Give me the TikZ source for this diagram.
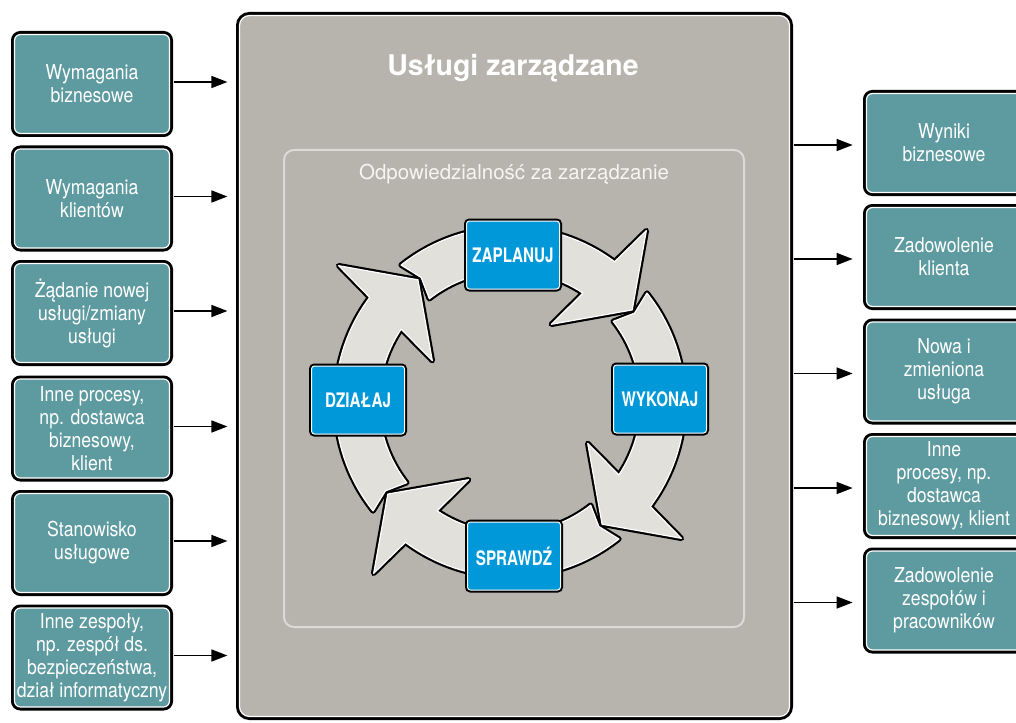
\documentclass[tikz,border=0pt]{standalone}
\usepackage{fontspec}
\setmainfont{TeX Gyre Heros}
\newfontfamily\boxfont{TeX Gyre Heros}[FakeStretch=0.86]
\newfontfamily\stepfont{TeX Gyre Heros}[FakeStretch=0.76]
\usetikzlibrary{arrows.meta}

\definecolor{tealbox}{RGB}{94,155,160}
\definecolor{panelgray}{RGB}{182,180,172}
\definecolor{panelline}{RGB}{220,218,212}
\definecolor{ringfill}{RGB}{225,224,219}
\definecolor{stepblue}{RGB}{0,152,216}
\definecolor{softwhite}{RGB}{246,245,241}

% one segment of the cycle ring, turned by #1 degrees (clockwise arrow)
\newcommand\cyclearrow[1]{%
  \path[ringarrow]
    (128.5+#1:175) -- (125.5+#1:153) -- (128+#1:131)
    arc[start angle=128+#1, end angle=56.2+#1, radius=131]
    -- (62+#1:88) -- (37+#1:153) -- (51.5+#1:219) -- (53.3+#1:175)
    arc[start angle=53.3+#1, end angle=128.5+#1, radius=175] -- cycle;}

\begin{document}
\begin{tikzpicture}[x=1pt,y=-1pt,
  infobox/.style={draw=white, line width=1.2pt,
    preaction={draw=black, line width=7pt},
    fill=tealbox, rounded corners=6pt,
    minimum width=155pt, minimum height=99pt, inner sep=0pt,
    align=center, text=white,
    font=\boxfont\fontsize{20.5}{23}\selectfont},
  stepbox/.style={draw=white, line width=1pt,
    preaction={draw=black, line width=5pt},
    fill=stepblue, rounded corners=3pt,
    minimum width=93pt, minimum height=68pt, inner sep=0pt,
    text=white, font=\stepfont\bfseries\fontsize{20}{24}\selectfont},
  mainpanel/.style={draw=white, line width=1.2pt,
    preaction={draw=black, line width=7pt},
    fill=panelgray, rounded corners=10pt,
    minimum width=550pt, minimum height=701pt, inner sep=0pt},
  framebox/.style={draw=panelline, line width=2pt, rounded corners=10pt,
    minimum width=460pt, minimum height=477pt, inner sep=0pt},
  ringarrow/.style={fill=ringfill, draw=white, line width=1.2pt,
    line join=round,
    preaction={draw=black, line width=5.5pt, line join=round}},
  flow/.style={draw=black, line width=1.5pt,
    -{Triangle[length=16pt,width=12pt]}}
]
\useasboundingbox (0,0) rectangle (1016,722);
\clip (0,0) rectangle (1016,722);
\fill[white] (0,0) rectangle (1016,722);

% central panel
\node[mainpanel] (panel) at (514.5,366) {};
\node[framebox] (frame) at (514,388.5) {};
\node[text=white, font=\bfseries\fontsize{28.5}{34}\selectfont]
  (title) at (513,68) {Usługi zarządzane};
\node[text=softwhite, font=\fontsize{20.5}{24}\selectfont]
  (subtitle) at (514,174) {Odpowiedzialność za zarządzanie};

% cycle ring
\begin{scope}[shift={(510,402)}, y=1pt]
  \cyclearrow{0}
  \cyclearrow{270}
  \cyclearrow{180}
  \cyclearrow{90}
\end{scope}

\node[stepbox] (plan)  at (513,255) {ZAPLANUJ};
\node[stepbox] (exec)  at (660,399) {WYKONAJ};
\node[stepbox] (check) at (514,556) {SPRAWDŹ};
\node[stepbox] (act)   at (358,400) {DZIAŁAJ};

% inputs
\node[infobox] (in1) at (92,84)    {Wymagania\\biznesowe};
\node[infobox] (in2) at (92,198.5) {Wymagania\\klientów};
\node[infobox] (in3) at (92,313)   {Żądanie nowej\\usługi/zmiany\\usługi};
\node[infobox] (in4) at (92,428.5) {Inne procesy,\\np. dostawca\\biznesowy,\\klient};
\node[infobox] (in5) at (92,543)   {Stanowisko\\usługowe};
\node[infobox] (in6) at (92,657.5) {Inne zespoły,\\np. zespół ds.\\bezpieczeństwa,\\dział informatyczny};

% outputs
\node[infobox] (out1) at (944,143)   {Wyniki\\biznesowe};
\node[infobox] (out2) at (944,257)   {Zadowolenie\\klienta};
\node[infobox] (out3) at (944,371.5) {Nowa i\\zmieniona\\usługa};
\node[infobox] (out4) at (944,486)   {Inne\\procesy, np.\\dostawca\\biznesowy, klient};
\node[infobox] (out5) at (944,600.5) {Zadowolenie\\zespołów i\\pracowników};

% connectors into the panel
\foreach \n in {in1,in2,in3,in4,in5,in6}
  \draw[flow, shorten <=3.5pt, shorten >=11.5pt]
    ([yshift=2pt]\n.east) -- ([yshift=2pt]\n.east -| panel.west);

% connectors out of the panel
\foreach \n in {out1,out2,out3,out4,out5}
  \draw[flow, shorten <=3.5pt, shorten >=13.3pt]
    ([yshift=-2pt]\n.west -| panel.east) -- ([yshift=-2pt]\n.west);
\end{tikzpicture}
\end{document}
